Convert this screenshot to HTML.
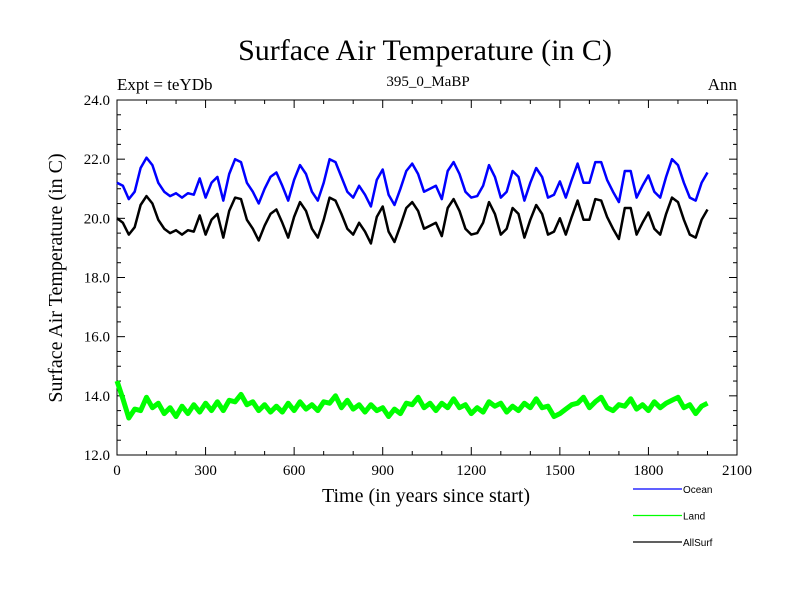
<!DOCTYPE html>
<html><head><meta charset="utf-8"><style>
html,body{margin:0;padding:0;background:#fff;}
svg{display:block;}
</style></head><body>
<svg id="chart" width="800" height="600" xmlns="http://www.w3.org/2000/svg">
<text x="425" y="60" font-family="Liberation Serif, serif" font-size="30" text-anchor="middle">Surface Air Temperature (in C)</text>
<text x="117" y="90" font-family="Liberation Serif, serif" font-size="17">Expt = teYDb</text>
<text x="428" y="86" font-family="Liberation Serif, serif" font-size="15" text-anchor="middle">395_0_MaBP</text>
<text x="737" y="90" font-family="Liberation Serif, serif" font-size="17" text-anchor="end">Ann</text>
<text transform="translate(62,278) rotate(-90)" font-family="Liberation Serif, serif" font-size="20" text-anchor="middle">Surface Air Temperature (in C)</text>
<text x="426" y="502" font-family="Liberation Serif, serif" font-size="20" text-anchor="middle">Time (in years since start)</text>
<g id="axes"></g>
<g id="series"></g>
<g id="legend"></g>
</svg>
<script>
const years = [0,20,40,60,80,100,120,140,160,180,200,220,240,260,280,300,320,340,360,380,400,420,440,460,480,500,520,540,560,580,600,620,640,660,680,700,720,740,760,780,800,820,840,860,880,900,920,940,960,980,1000,1020,1040,1060,1080,1100,1120,1140,1160,1180,1200,1220,1240,1260,1280,1300,1320,1340,1360,1380,1400,1420,1440,1460,1480,1500,1520,1540,1560,1580,1600,1620,1640,1660,1680,1700,1720,1740,1760,1780,1800,1820,1840,1860,1880,1900,1920,1940,1960,1980,2000];
const ocean = [21.2,21.1,20.65,20.9,21.7,22.05,21.8,21.2,20.9,20.75,20.85,20.7,20.85,20.8,21.35,20.7,21.2,21.4,20.6,21.5,22.0,21.9,21.2,20.9,20.5,21.0,21.4,21.55,21.1,20.6,21.3,21.8,21.5,20.9,20.6,21.2,22.0,21.9,21.4,20.9,20.7,21.1,20.8,20.4,21.3,21.65,20.8,20.45,21.0,21.6,21.85,21.5,20.9,21.0,21.1,20.65,21.6,21.9,21.5,20.9,20.7,20.75,21.1,21.8,21.4,20.7,20.9,21.6,21.4,20.6,21.2,21.7,21.4,20.7,20.8,21.25,20.7,21.3,21.85,21.2,21.2,21.9,21.9,21.3,20.9,20.55,21.6,21.6,20.7,21.1,21.45,20.9,20.7,21.4,22.0,21.8,21.2,20.7,20.6,21.2,21.55];
const land = [14.5,13.9,13.25,13.55,13.5,13.95,13.6,13.75,13.4,13.6,13.3,13.65,13.4,13.7,13.45,13.75,13.5,13.8,13.5,13.85,13.8,14.05,13.7,13.8,13.5,13.7,13.45,13.65,13.45,13.75,13.5,13.8,13.55,13.7,13.5,13.8,13.75,14.0,13.6,13.85,13.55,13.7,13.45,13.7,13.5,13.6,13.3,13.55,13.4,13.75,13.7,13.95,13.6,13.75,13.5,13.75,13.6,13.9,13.6,13.7,13.4,13.6,13.45,13.8,13.65,13.75,13.45,13.65,13.5,13.75,13.6,13.9,13.6,13.65,13.3,13.4,13.55,13.7,13.75,13.95,13.6,13.8,13.95,13.6,13.5,13.7,13.65,13.9,13.55,13.7,13.5,13.8,13.6,13.75,13.85,13.95,13.6,13.7,13.4,13.65,13.75];
const allSurf = [20.0,19.85,19.45,19.7,20.45,20.75,20.5,19.95,19.65,19.5,19.6,19.45,19.6,19.55,20.1,19.45,19.95,20.15,19.35,20.25,20.7,20.65,19.95,19.65,19.25,19.75,20.15,20.3,19.85,19.35,20.05,20.55,20.25,19.65,19.35,19.95,20.7,20.6,20.15,19.65,19.45,19.85,19.55,19.15,20.05,20.4,19.55,19.2,19.75,20.35,20.55,20.25,19.65,19.75,19.85,19.4,20.35,20.65,20.25,19.65,19.45,19.5,19.85,20.55,20.15,19.45,19.65,20.35,20.15,19.35,19.95,20.45,20.15,19.45,19.55,20.0,19.45,20.05,20.6,19.95,19.95,20.65,20.6,20.05,19.65,19.3,20.35,20.35,19.45,19.85,20.2,19.65,19.45,20.15,20.7,20.55,19.95,19.45,19.35,19.95,20.3];
const xTickLabels = [0,300,600,900,1200,1500,1800,2100];
const yTickLabels = ["12.0","14.0","16.0","18.0","20.0","22.0","24.0"];
const seriesNames = ["Ocean","Land","AllSurf"];
const seriesColors = ["#0000ff","#00ff00","#000000"];

const NS = "http://www.w3.org/2000/svg";
const X0=117, X1=737, Y0=455, Y1=100, XMIN=0, XMAX=2100, YMIN=12, YMAX=24;
function xs(v){return X0+(v-XMIN)/(XMAX-XMIN)*(X1-X0);}
function ys(v){return Y0-(v-YMIN)/(YMAX-YMIN)*(Y0-Y1);}
function mk(tag,attrs,parent){const e=document.createElementNS(NS,tag);for(const k in attrs)e.setAttribute(k,attrs[k]);parent.appendChild(e);return e;}

const axes=document.getElementById('axes');
const frame=mk('rect',{x:X0,y:Y1,width:X1-X0,height:Y0-Y1,fill:'none',stroke:'#000','stroke-width':1},axes);


for(let v=0;v<=XMAX;v+=100){
  const major=v%300===0, L=major?8:4;
  const t1=mk('line',{x1:xs(v),x2:xs(v),y1:Y0,y2:Y0-L,stroke:'#000'},axes);
  
  
  const t2=mk('line',{x1:xs(v),x2:xs(v),y1:Y1,y2:Y1+L,stroke:'#000'},axes);
  
  
}
xTickLabels.forEach(v=>{
  const t=mk('text',{x:xs(v),y:Y0+20,'font-family':'Liberation Serif, serif','font-size':15,'text-anchor':'middle'},axes);
  t.textContent=v;
  
  
});
for(let v=YMIN;v<=YMAX+0.001;v+=0.5){
  const major=Math.abs(v-Math.round(v/2)*2)<0.01, L=major?8:4;
  const t1=mk('line',{x1:X0,x2:X0+L,y1:ys(v),y2:ys(v),stroke:'#000'},axes);
  
  
  const t2=mk('line',{x1:X1,x2:X1-L,y1:ys(v),y2:ys(v),stroke:'#000'},axes);
  
  
}
yTickLabels.forEach(s=>{
  const t=mk('text',{x:X0-7,y:ys(parseFloat(s))+5,'font-family':'Liberation Serif, serif','font-size':15,'text-anchor':'end'},axes);
  t.textContent=s;
  
  
});

const seriesG=document.getElementById('series');
function drawLine(vals,color,name,w){
  const d=vals.map((v,i)=>(i?'L':'M')+xs(years[i]).toFixed(1)+' '+ys(v).toFixed(1)).join(' ');
  const p=mk('path',{d:d,fill:'none',stroke:color,'stroke-width':w,'stroke-linejoin':'round'},seriesG);
  
  
}
drawLine(land,seriesColors[1],'land-line',5);
drawLine(ocean,seriesColors[0],'ocean-line',2.5);
drawLine(allSurf,seriesColors[2],'allsurf-line',2.5);

const lg=document.getElementById('legend');
seriesNames.forEach((n,i)=>{
  const y=489+i*26.5;
  const l=mk('line',{x1:633,x2:682,y1:y,y2:y,stroke:seriesColors[i],'stroke-width':1.2},lg);
  
  
  const t=mk('text',{x:683,y:y+4,'font-family':'Liberation Sans, sans-serif','font-size':10},lg);
  t.textContent=n;
  
  
});
</script>
</body></html>
